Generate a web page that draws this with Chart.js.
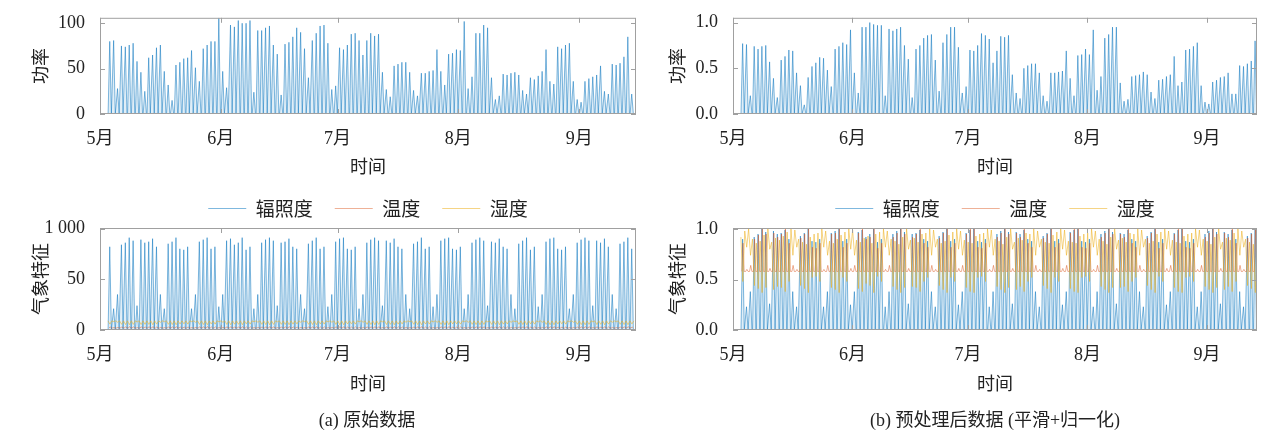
<!DOCTYPE html>
<html>
<head>
<meta charset="utf-8">
<script src="https://cdn.jsdelivr.net/npm/chart.js@4"></script>
<style>
  html, body { margin: 0; padding: 0; background: #fff; overflow: hidden; }
  body { width: 1263px; height: 436px; position: relative; }
  canvas { position: absolute; }
  .cap { position: absolute; top: 405px; transform: translateX(-50%); white-space: nowrap;
         font: 18px 'Liberation Serif', 'Noto Sans CJK SC', serif; color: #222; }
</style>
</head>
<body>
<canvas id="c1" width="736" height="177" style="left:0;top:0"></canvas>
<canvas id="c2" width="710" height="177" style="left:640px;top:0"></canvas>
<canvas id="c3" width="736" height="259" style="left:0;top:177px"></canvas>
<canvas id="c4" width="710" height="259" style="left:640px;top:177px"></canvas>
<div class="cap" style="left:367px">(a) 原始数据</div>
<div class="cap" style="left:995px">(b) 预处理后数据 (平滑+归一化)</div>
<script>
// x axis: days since 1 May
const monthTicks = [0, 31, 61, 92, 123];
const monthLabels = ['5月', '6月', '7月', '8月', '9月'];
const FIRST_DAY = 2;

// daily peak power
const powerRaw = [80,81,28,75,74,76,78,58,46,25,
  62,65,73,76,47,32,15,54,57,61,
  62,70,51,36,72,76,80,80,106,47,
  29,98,96,103,100,100,103,24,92,92,
  95,97,76,66,21,77,79,85,95,90,
  72,40,81,89,97,98,78,27,31,73,
  71,76,88,89,81,65,81,89,86,88,
  46,27,19,53,55,57,57,46,26,20,
  45,45,47,48,71,47,32,66,67,71,
  70,102,28,41,89,89,98,95,40,16,
  20,44,43,45,46,43,26,22,40,38,
  42,47,71,36,33,74,72,76,78,36,
  16,13,36,39,41,43,53,25,22,55,
  54,56,63,85,22];
const powerNorm = [.77,.76,.20,.74,.71,.74,.75,.57,.39,.18,
  .59,.63,.70,.69,.45,.31,.10,.40,.52,.56,
  .62,.61,.48,.30,.71,.74,.78,.76,.92,.45,
  .23,.95,.95,1.0,.98,.97,.97,.20,.93,.91,
  .93,.95,.75,.60,.18,.71,.75,.83,.86,.87,
  .59,.25,.78,.87,.95,.95,.73,.23,.30,.70,
  .69,.75,.88,.86,.82,.56,.69,.85,.84,.86,
  .43,.23,.17,.50,.53,.55,.55,.45,.20,.14,
  .45,.45,.46,.47,.69,.39,.20,.64,.65,.71,
  .65,.92,.26,.41,.83,.87,.95,.95,.34,.14,
  .16,.41,.42,.43,.46,.43,.24,.17,.37,.38,
  .41,.43,.63,.31,.35,.70,.71,.74,.78,.31,
  .13,.11,.35,.37,.40,.41,.45,.22,.22,.53,
  .52,.55,.58,.80,.22];

// daily peak irradiance
const irrRaw = [820,210,350,840,860,910,880,240,890,860,
  870,900,820,350,210,850,870,910,800,790,
  820,210,350,870,890,910,800,820,230,350,
  880,900,840,860,910,790,820,210,350,860,
  890,910,880,240,860,870,900,820,800,350,
  210,850,880,910,800,820,230,350,870,900,
  910,800,790,820,210,350,860,890,910,880,
  240,880,860,900,820,800,350,210,850,870,
  910,800,820,230,350,880,900,910,800,790,
  820,210,350,860,890,910,880,240,870,860,
  900,820,800,350,210,850,880,910,790,820,
  230,350,870,900,910,800,790,820,210,350,
  860,890,910,880,240,880,860,900,820,350,
  210,850,870,910,800];
const irrNorm = [.90,.23,.38,.92,.95,1.0,.97,.26,.98,.95,
  .96,.99,.90,.38,.23,.93,.96,1.0,.88,.87,
  .90,.23,.38,.96,.98,1.0,.88,.90,.25,.38,
  .97,.99,.92,.95,1.0,.87,.90,.23,.38,.95,
  .98,1.0,.97,.26,.95,.96,.99,.90,.88,.38,
  .23,.93,.97,1.0,.88,.90,.25,.38,.96,.99,
  1.0,.88,.87,.90,.23,.38,.95,.98,1.0,.97,
  .26,.97,.95,.99,.90,.88,.38,.23,.93,.96,
  1.0,.88,.90,.25,.38,.97,.99,1.0,.88,.87,
  .90,.23,.38,.95,.98,1.0,.97,.26,.96,.95,
  .99,.90,.88,.38,.23,.93,.97,1.0,.87,.90,
  .25,.38,.96,.99,1.0,.88,.87,.90,.23,.38,
  .95,.98,1.0,.97,.26,.97,.95,.99,.90,.38,
  .23,.93,.96,1.0,.88];

// daily max temperature, daily min humidity (night levels below)
const tempRaw = [31,24,26,32,33,34,33,24,33,32,
  33,34,31,26,24,32,33,34,30,30,
  31,24,26,33,33,34,30,31,24,26,
  33,34,32,32,34,30,31,24,26,32,
  33,34,33,24,32,33,34,31,30,26,
  24,32,33,34,30,31,24,26,33,34,
  34,30,30,31,24,26,32,33,34,33,
  24,33,32,34,31,30,26,24,32,33,
  34,30,31,24,26,33,34,34,30,30,
  31,24,26,32,33,34,33,24,33,32,
  34,31,30,26,24,32,33,34,30,31,
  24,26,33,34,34,30,30,31,24,26,
  32,33,34,33,24,33,32,34,31,26,
  24,32,33,34,30];
const humRaw = [58,82,76,56,54,52,55,80,54,56,
  55,52,58,76,82,56,54,52,60,61,
  58,82,76,55,54,52,60,58,80,76,
  55,52,57,56,52,61,58,82,76,56,
  54,52,55,80,56,55,52,58,60,76,
  82,56,54,52,60,58,80,76,55,52,
  52,60,61,58,82,76,56,54,52,55,
  80,54,56,52,58,60,76,82,56,54,
  52,60,58,80,76,55,52,52,60,61,
  58,82,76,56,54,52,55,80,55,56,
  52,58,60,76,82,56,54,52,61,58,
  80,76,55,52,52,60,61,58,82,76,
  56,54,52,55,80,54,56,52,58,76,
  82,56,54,52,60];
const tempNorm = [.86,.60,.64,.90,.94,1.0,.95,.61,.96,.92,
  .95,1.0,.86,.64,.60,.91,.95,1.0,.82,.81,
  .86,.60,.64,.95,.96,1.0,.82,.86,.61,.64,
  .96,1.0,.90,.92,1.0,.81,.86,.60,.64,.92,
  .96,1.0,.95,.61,.92,.95,1.0,.86,.82,.64,
  .60,.91,.96,1.0,.82,.86,.61,.64,.95,1.0,
  1.0,.82,.81,.86,.60,.64,.92,.96,1.0,.95,
  .61,.96,.92,1.0,.86,.82,.64,.60,.91,.95,
  1.0,.82,.86,.61,.64,.96,1.0,1.0,.82,.81,
  .86,.60,.64,.92,.96,1.0,.95,.61,.95,.92,
  1.0,.86,.82,.64,.60,.91,.96,1.0,.81,.86,
  .61,.64,.95,1.0,1.0,.82,.81,.86,.60,.64,
  .92,.96,1.0,.95,.61,.96,.92,1.0,.86,.64,
  .60,.91,.95,1.0,.82];
const humNorm = [.48,.82,.74,.44,.41,.37,.42,.80,.40,.43,
  .42,.38,.48,.74,.82,.44,.41,.37,.52,.53,
  .48,.82,.74,.42,.40,.37,.52,.48,.80,.74,
  .41,.38,.46,.44,.37,.53,.48,.82,.74,.43,
  .40,.37,.42,.80,.43,.42,.38,.48,.52,.74,
  .82,.44,.40,.37,.52,.48,.80,.74,.42,.38,
  .37,.52,.53,.48,.82,.74,.43,.40,.37,.42,
  .80,.40,.43,.38,.48,.52,.74,.82,.44,.41,
  .37,.52,.48,.80,.74,.41,.38,.37,.52,.53,
  .48,.82,.74,.43,.40,.37,.42,.80,.42,.43,
  .38,.48,.52,.74,.82,.44,.40,.37,.53,.48,
  .80,.74,.42,.38,.37,.52,.53,.48,.82,.74,
  .43,.40,.37,.42,.80,.40,.43,.38,.48,.74,
  .82,.44,.41,.37,.52];
// night-time humidity peak, normalised
const humNightNorm = [.92,.98,1.0,.90,.86,.88,.94,1.0,.87,.91,
  .89,.93,.97,1.0,.99,.90,.87,.85,.92,.95,
  .96,1.0,.98,.88,.86,.90,.94,.97,1.0,.99,
  .89,.87,.91,.93,.86,.95,.97,1.0,.98,.90,
  .88,.85,.92,1.0,.89,.91,.87,.95,.96,1.0,
  .99,.90,.86,.88,.94,.97,1.0,.98,.89,.87,
  .86,.93,.95,.96,1.0,.99,.90,.88,.85,.92,
  1.0,.87,.91,.89,.96,.95,1.0,.98,.90,.87,
  .86,.94,.97,1.0,.99,.88,.87,.86,.93,.95,
  .96,1.0,.98,.90,.88,.85,.92,1.0,.89,.91,
  .87,.96,.95,1.0,.99,.90,.86,.88,.95,.97,
  1.0,.98,.89,.87,.86,.93,.95,.96,1.0,.99,
  .90,.88,.85,.92,1.0,.87,.91,.89,.96,1.0,
  .98,.90,.87,.85,.93];
const tempNightRaw = 20, humNightRaw = 90, tempNightNorm = 0.58;

const rawTicks = [0, 500, 1000], rawTickLabels = ['0', '50', '1 000'];
const powerTicks = [0, 50, 100], powerTickLabels = ['0', '50', '100'];
const normTicks = [0, 0.5, 1], normTickLabels = ['0.0', '0.5', '1.0'];

const BLUE = 'rgba(0,114,189,0.5)';
const BLUE_FILL = 'rgba(0,114,189,0.12)';
const RED = 'rgba(217,83,25,0.45)';
const YELLOW = 'rgba(237,177,32,0.55)';
const TXT = '#222';
const SERIF = "'Liberation Serif', 'Noto Sans CJK SC', serif";
const CJK = "'Noto Sans CJK SC', sans-serif";

// one rise/fall per day, placed on the day axis
function daily(values, night, offs) {
  const pts = [];
  values.forEach((v, i) => {
    const d = FIRST_DAY + i;
    const n0 = Array.isArray(night) ? night[i] : night;
    const n1 = Array.isArray(night) ? night[Math.min(i + 1, night.length - 1)] : night;
    pts.push({x: d + offs[0], y: n0}, {x: d + offs[1], y: v}, {x: d + offs[2], y: n1});
  });
  return pts;
}
const SUN = [0.08, 0.5, 0.92];
const TEMP = [0.3, 0.6, 0.9];
const HUM = [0.05, 0.55, 1.05];

// box + inward ticks, MATLAB style
const framePlugin = {
  id: 'frame',
  afterDatasetsDraw(chart) {
    const {ctx, chartArea: a} = chart;
    const x = chart.scales.x, y = chart.scales.y;
    ctx.save();
    ctx.strokeStyle = '#a0a0a0';
    ctx.lineWidth = 1;
    ctx.strokeRect(a.left + 0.5, a.top + 0.5, a.width - 1, a.height - 1);
    ctx.beginPath();
    x.ticks.forEach(t => {
      const px = Math.round(x.getPixelForValue(t.value)) + 0.5;
      ctx.moveTo(px, a.bottom); ctx.lineTo(px, a.bottom - 5);
      ctx.moveTo(px, a.top); ctx.lineTo(px, a.top + 5);
    });
    y.ticks.forEach(t => {
      const py = Math.round(y.getPixelForValue(t.value)) + 0.5;
      ctx.moveTo(a.left, py); ctx.lineTo(a.left + 5, py);
      ctx.moveTo(a.right, py); ctx.lineTo(a.right - 5, py);
    });
    ctx.stroke();
    ctx.restore();
  }
};

function makeChart(id, o) {
  new Chart(document.getElementById(id), {
    type: 'line',
    data: {datasets: o.datasets},
    plugins: [framePlugin],
    options: {
      responsive: false,
      animation: false,
      events: [],
      layout: {padding: {top: o.padTop, bottom: o.padBottom, left: 0, right: 0}},
      elements: {point: {radius: 0}, line: {borderWidth: 1, tension: 0}},
      plugins: {
        tooltip: {enabled: false},
        legend: {
          display: o.legend,
          labels: {
            usePointStyle: true, pointStyle: 'line', pointStyleWidth: 38,
            padding: 22, color: TXT, font: {family: CJK, size: 19},
            sort: (a, b) => a.datasetIndex - b.datasetIndex
          }
        }
      },
      scales: {
        x: {
          type: 'linear', min: 0, max: o.xMax,
          afterBuildTicks: s => { s.ticks = monthTicks.map(v => ({value: v})); },
          afterFit: s => { s.height = o.xHeight; },
          grid: {display: false}, border: {display: false},
          ticks: {padding: 6, color: TXT, font: {family: SERIF, size: 18}, maxRotation: 0,
                  callback: (v, i) => monthLabels[i]},
          title: {display: true, text: '时间', color: TXT, padding: 0, font: {family: CJK, size: 18}}
        },
        y: {
          min: 0, max: o.yMax,
          afterBuildTicks: s => { s.ticks = o.yTicks.map(v => ({value: v})); },
          afterFit: s => { s.width = o.yWidth; },
          grid: {display: false}, border: {display: false},
          ticks: {padding: 7, color: TXT, font: {family: SERIF, size: 18},
                  callback: (v, i) => o.yLabels[i]},
          title: {display: true, text: o.yTitle, color: TXT, padding: {top: o.titlePad, bottom: 0},
                  font: {family: CJK, size: 18}}
        },
        // empty right axis, keeps the legend centred over the plot
        y2: {
          position: 'right', display: true,
          afterFit: s => { s.width = o.yWidth; },
          grid: {display: false}, border: {display: false}, ticks: {display: false}
        }
      }
    }
  });
}

const sunSet = (label, values, order) => ({
  label, data: daily(values, 0, SUN), borderColor: BLUE,
  backgroundColor: BLUE_FILL, fill: 'origin', order
});

makeChart('c1', {
  datasets: [sunSet('功率', powerRaw, 1)],
  legend: false, padTop: 12, padBottom: 0, xHeight: 63, xMax: 137.6,
  yMax: 106, yTicks: powerTicks, yLabels: powerTickLabels, yWidth: 100, yTitle: '功率', titlePad: 29
});
makeChart('c2', {
  datasets: [sunSet('功率', powerNorm, 1)],
  legend: false, padTop: 12, padBottom: 0, xHeight: 63, xMax: 136,
  yMax: 1.052, yTicks: normTicks, yLabels: normTickLabels, yWidth: 93, yTitle: '功率', titlePad: 26
});
makeChart('c3', {
  datasets: [
    sunSet('辐照度', irrRaw, 3),
    {label: '温度', data: daily(tempRaw, tempNightRaw, TEMP), borderColor: RED, order: 2},
    {label: '湿度', data: daily(humRaw, humNightRaw, HUM), borderColor: YELLOW, order: 1}
  ],
  legend: true, padTop: 0, padBottom: 42, xHeight: 64, xMax: 137.6,
  yMax: 1005, yTicks: rawTicks, yLabels: rawTickLabels, yWidth: 100, yTitle: '气象特征', titlePad: 29
});
makeChart('c4', {
  datasets: [
    sunSet('辐照度', irrNorm, 3),
    {label: '温度', data: daily(tempNorm, tempNightNorm, TEMP), borderColor: RED, order: 2},
    {label: '湿度', data: daily(humNorm, humNightNorm, HUM), borderColor: YELLOW, order: 1}
  ],
  legend: true, padTop: 0, padBottom: 42, xHeight: 64, xMax: 136,
  yMax: 1.01, yTicks: normTicks, yLabels: normTickLabels, yWidth: 93, yTitle: '气象特征', titlePad: 26
});
</script>
</body>
</html>
